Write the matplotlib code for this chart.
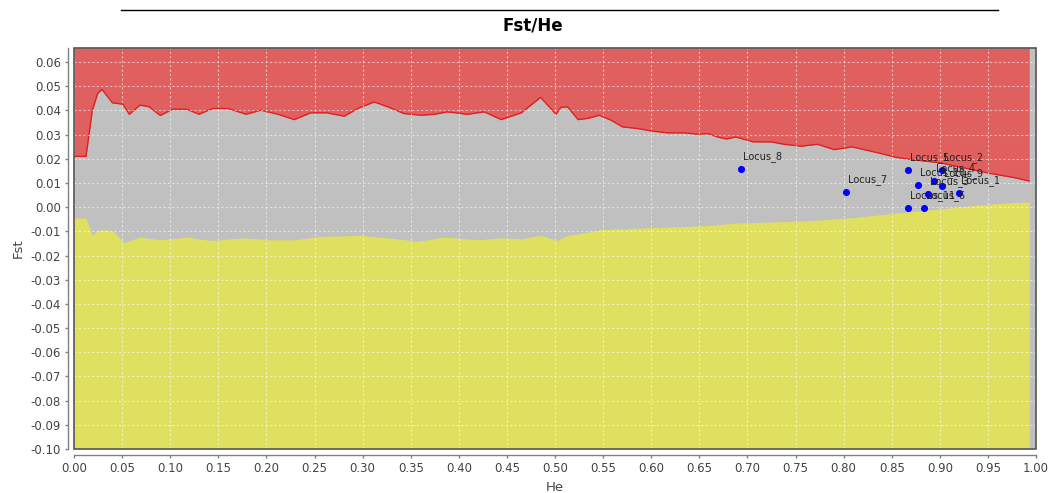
import matplotlib
matplotlib.use("Agg")
import matplotlib.pyplot as plt
from matplotlib.lines import Line2D
from matplotlib.patches import Rectangle

# ---- data ----
upper_he = [0.000, 0.0125, 0.019, 0.0246, 0.029, 0.040, 0.0506, 0.0575, 0.0686, 0.078,
            0.0897, 0.1025, 0.117, 0.130, 0.144, 0.160, 0.179, 0.194, 0.212, 0.229,
            0.246, 0.263, 0.281, 0.295, 0.312, 0.326, 0.343, 0.361, 0.375, 0.388,
            0.409, 0.4265, 0.444, 0.465, 0.485, 0.501, 0.506, 0.513, 0.524, 0.534,
            0.546, 0.558, 0.570, 0.586, 0.600, 0.617, 0.634, 0.648, 0.659, 0.669,
            0.678, 0.688, 0.706, 0.7245, 0.738, 0.756, 0.773, 0.790, 0.809, 0.832,
            0.856, 0.877, 0.901, 0.929, 0.953, 0.9775, 0.993]
upper_fst = [0.0210, 0.0210, 0.0400, 0.0470, 0.0487, 0.0431, 0.0426, 0.0384, 0.0422, 0.0415,
             0.0379, 0.0405, 0.0405, 0.0384, 0.0408, 0.0408, 0.0384, 0.0401, 0.0384, 0.0362,
             0.0390, 0.0390, 0.0376, 0.0408, 0.0435, 0.0415, 0.0387, 0.0380, 0.0384, 0.0394,
             0.0384, 0.0394, 0.0362, 0.0390, 0.0454, 0.0384, 0.0412, 0.0415, 0.0362, 0.0367,
             0.0380, 0.0360, 0.0332, 0.0325, 0.0315, 0.0307, 0.0307, 0.0302, 0.0304, 0.0290,
             0.0282, 0.0290, 0.0270, 0.0270, 0.0260, 0.0252, 0.0260, 0.0238, 0.0249, 0.0228,
             0.0205, 0.0194, 0.0183, 0.0159, 0.0139, 0.0122, 0.0108]

lower_he = [0.000, 0.0125, 0.019, 0.0246, 0.033, 0.042, 0.052, 0.068, 0.090, 0.118,
            0.142, 0.177, 0.2013, 0.229, 0.257, 0.298, 0.326, 0.357, 0.385, 0.4197,
            0.444, 0.465, 0.4855, 0.502, 0.513, 0.530, 0.548, 0.572, 0.600, 0.634,
            0.662, 0.686, 0.721, 0.756, 0.780, 0.808, 0.832, 0.8666, 0.901, 0.936,
            0.9706, 0.993]
lower_fst = [-0.0045, -0.0045, -0.0117, -0.0096, -0.0093, -0.0103, -0.0147, -0.0124, -0.0135, -0.0124,
             -0.0138, -0.0127, -0.0135, -0.0135, -0.0121, -0.0117, -0.0127, -0.0141, -0.0124, -0.0135,
             -0.0127, -0.0131, -0.0117, -0.0138, -0.0117, -0.0107, -0.0093, -0.0089, -0.0085, -0.0080,
             -0.0076, -0.0066, -0.0062, -0.0058, -0.0052, -0.0044, -0.0034, -0.0020, -0.0007, 0.0007,
             0.0018, 0.0021]

loci = ["Locus_8", "Locus_7", "Locus_5", "Locus_2", "Locus_4", "Locus_10",
        "Locus_9", "Locus_3", "Locus_1", "Locus_11", "Locus_6"]
loci_he = [0.6934, 0.8025, 0.8666, 0.9023, 0.8943, 0.8770,
           0.9023, 0.8874, 0.9203, 0.8666, 0.8832]
loci_fst = [0.0156, 0.0062, 0.0155, 0.0155, 0.0108, 0.0090,
            0.0087, 0.0056, 0.0060, -0.0004, -0.0004]

x_ticks = [i * 0.05 for i in range(21)]
y_ticks = [-0.10 + i * 0.01 for i in range(17)]

# ---- figure ----
W, H = 1052, 493
fig = plt.figure(figsize=(W / 100, H / 100), dpi=100)
L, R, T, B = 74, 1036, 48, 449
ax = fig.add_axes([L / W, 1 - B / H, (R - L) / W, (B - T) / H])
ymin, ymax = -0.10, 0.0658
ax.set_xlim(0, 1)
ax.set_ylim(ymin, ymax)
ax.set_facecolor("#C0C0C0")

ax.fill_between(upper_he, upper_fst, ymax, color="#E06060", lw=0, zorder=1)
ax.fill_between(lower_he, ymin, lower_fst, color="#E0E060", lw=0, zorder=1)
ax.plot(upper_he, upper_fst, color="#E02020", lw=1.0, zorder=2)

ax.set_xticks(x_ticks)
ax.set_yticks(y_ticks)
ax.set_xticklabels([f"{v:.2f}" for v in x_ticks])
ax.set_yticklabels([f"{v:.2f}" for v in y_ticks])
ax.grid(True, color="white", alpha=0.55, linestyle=(0, (2, 2)), lw=0.8, zorder=3)
ax.set_axisbelow(False)

ax.scatter(loci_he, loci_fst, s=26, color="#0000FF", zorder=5, lw=0)
for name, hx, fy in zip(loci, loci_he, loci_fst):
    ax.annotate(name, (hx, fy), xytext=(2, 7), textcoords="offset pixels",
                fontsize=7, color="#222222", ha="left", va="bottom", zorder=6)

for s in ["top", "right"]:
    ax.spines[s].set_visible(False)
for s in ["left", "bottom"]:
    ax.spines[s].set_position(("outward", 4))
    ax.spines[s].set_color("#808080")
    ax.spines[s].set_linewidth(1)
ax.add_patch(Rectangle((0, 0), 1, 1, transform=ax.transAxes, fill=False,
                       ec="#555555", lw=1.2, zorder=7, clip_on=False))
ax.tick_params(axis="both", colors="#808080", labelcolor="#444444",
               labelsize=8.5, length=2, width=1)
ax.set_xlabel("He", fontsize=9.5, color="#444444", labelpad=4)
ax.set_ylabel("Fst", fontsize=9.5, color="#444444", labelpad=4)

fig.text(533 / W, 1 - 25 / H, "Fst/He", ha="center", va="center",
         fontsize=12, fontweight="bold", color="black")
fig.add_artist(Line2D([121 / W, 998 / W], [1 - 10 / H, 1 - 10 / H],
                      transform=fig.transFigure, color="black", lw=1))

fig.savefig("out.png", dpi=100)
